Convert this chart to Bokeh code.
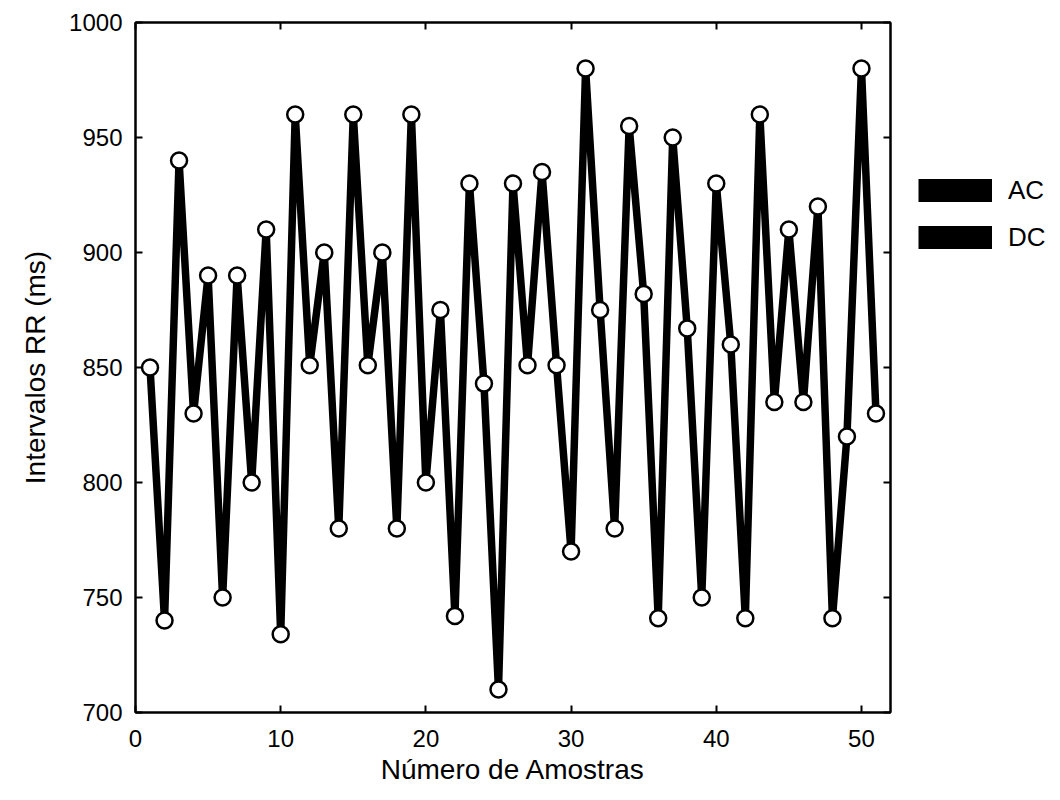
from bokeh.plotting import figure
from bokeh.layouts import row
from bokeh.models import Range1d, LinearAxis, FixedTicker, Legend, LegendItem, ColumnDataSource
from bokeh.embed import file_html
from bokeh.resources import INLINE

# ---- data ----
amostras = list(range(1, 52))
rr_ms = [850, 740, 940, 830, 890, 750, 890, 800, 910, 734,
         960, 851, 900, 780, 960, 851, 900, 780, 960, 800,
         875, 742, 930, 843, 710, 930, 851, 935, 851, 770,
         980, 875, 780, 955, 882, 741, 950, 867, 750, 930,
         860, 741, 960, 835, 910, 835, 920, 741, 820, 980,
         830]
x_ticks = [0, 10, 20, 30, 40, 50]
y_ticks = [700, 750, 800, 850, 900, 950, 1000]
legend_labels = ["AC", "DC"]

FONT = "Liberation Sans"

main = figure(width=892, height=800, output_backend="svg", toolbar_location=None,
              x_range=Range1d(0, 52), y_range=Range1d(700, 1000),
              min_border_left=135, min_border_right=2,
              min_border_top=22, min_border_bottom=88)

main.xgrid.visible = False
main.ygrid.visible = False
main.outline_line_color = "black"
main.outline_line_width = 2
main.background_fill_color = "white"
main.border_fill_color = "white"

def style_axis(ax, ticks, show_labels=True):
    ax.ticker = FixedTicker(ticks=ticks)
    ax.axis_line_color = "black"
    ax.axis_line_width = 2
    ax.major_tick_in = 7
    ax.major_tick_out = 0
    ax.major_tick_line_width = 2
    ax.major_tick_line_color = "black"
    ax.minor_tick_line_color = None
    ax.major_label_text_font = FONT
    ax.major_label_text_color = "black"
    ax.major_label_text_font_size = "24px"
    if not show_labels:
        ax.major_label_overrides = {t: "" for t in ticks}
        ax.major_label_standoff = 0

style_axis(main.xaxis[0], x_ticks)
style_axis(main.yaxis[0], y_ticks)
main.xaxis[0].major_label_standoff = 17
main.yaxis[0].major_label_standoff = 13

main.xaxis[0].axis_label = "Número de Amostras"
main.yaxis[0].axis_label = "Intervalos RR (ms)"
for ax in (main.xaxis[0], main.yaxis[0]):
    ax.axis_label_text_font = FONT
    ax.axis_label_text_font_size = "28px"
    ax.axis_label_text_font_style = "normal"
    ax.axis_label_text_color = "black"
main.xaxis[0].axis_label_standoff = 4
main.yaxis[0].axis_label_standoff = 15

top_ax = LinearAxis()
style_axis(top_ax, x_ticks, show_labels=False)
main.add_layout(top_ax, "above")
right_ax = LinearAxis()
style_axis(right_ax, y_ticks, show_labels=False)
main.add_layout(right_ax, "right")

src = ColumnDataSource(dict(x=amostras, y=rr_ms))
main.line("x", "y", source=src, line_color="black", line_width=7.5, line_join="miter")
main.scatter("x", "y", source=src, marker="circle", size=16,
             fill_color="white", line_color="black", line_width=2.5)

# ---- legend panel (separate small figure to the right) ----
leg = figure(width=168, height=800, output_backend="svg", toolbar_location=None,
             x_range=Range1d(0, 1), y_range=Range1d(0, 1),
             min_border=0, outline_line_color=None)
leg.axis.visible = False
leg.grid.visible = False
leg.background_fill_color = "white"
leg.border_fill_color = "white"

nan = float("nan")
items = []
for lab in legend_labels:
    r = leg.line(x=[nan, nan], y=[nan, nan], line_color="black", line_width=23)
    items.append(LegendItem(label=lab, renderers=[r]))

legend = Legend(items=items, location=(26, 459),
                glyph_width=74, glyph_height=32, label_height=32,
                spacing=15, label_standoff=16, padding=10, margin=0,
                border_line_color=None, background_fill_alpha=0,
                label_text_font=FONT, label_text_font_size="26px",
                label_text_color="black")
leg.add_layout(legend)

p = row(main, leg, spacing=0)
open("out.html", "w").write(file_html(p, INLINE))
